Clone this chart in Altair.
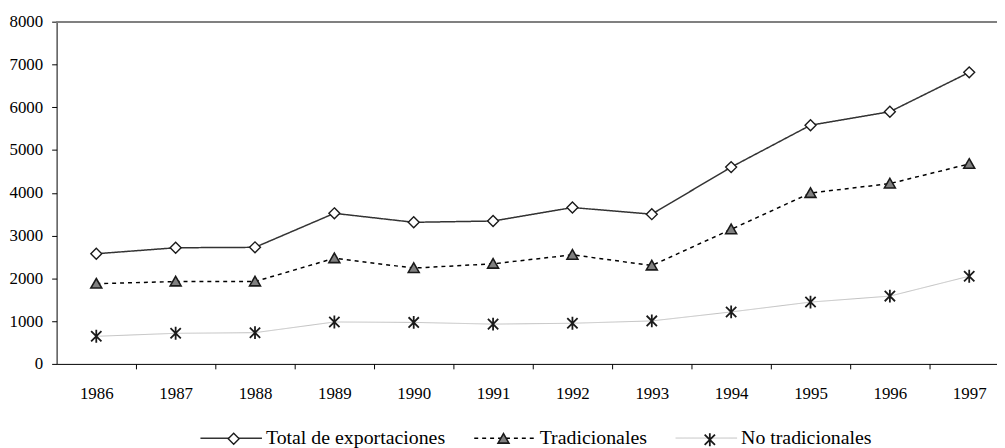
import altair as alt
import pandas as pd

# ---- data ----
years = [1986, 1987, 1988, 1989, 1990, 1991, 1992, 1993, 1994, 1995, 1996, 1997]
total = [2575, 2715, 2725, 3520, 3310, 3340, 3655, 3500, 4600, 5580, 5895, 6815]
tradicionales = [1875, 1925, 1925, 2470, 2240, 2340, 2550, 2300, 3145, 3995, 4215, 4675]
no_tradicionales = [645, 715, 730, 980, 970, 930, 950, 1005, 1215, 1445, 1585, 2050]
series = ["Total de exportaciones", "Tradicionales", "No tradicionales"]
y_ticks = [0, 1000, 2000, 3000, 4000, 5000, 6000, 7000, 8000]

rows = []
for name, vals in zip(series, [total, tradicionales, no_tradicionales]):
    for yr, v in zip(years, vals):
        rows.append({"anio": yr, "valor": v, "serie": name})
df = pd.DataFrame(rows)

FONT = "Liberation Serif"
LINE_SYM = 3844  # legend line symbol: 62 px long

x_scale = alt.Scale(domain=[years[0] - 0.5, years[-1] + 0.5], range=[0, 960], nice=False, zero=False)
y_scale = alt.Scale(domain=[y_ticks[0], y_ticks[-1]], nice=False)

x_axis = alt.Axis(
    values=[y + 0.5 for y in years],
    labelExpr="format(floor(datum.value), 'd')",
    labelOffset=-40, labelFlush=False, tickSize=5, labelPadding=17,
    grid=False, title=None, domainColor="black", tickColor="black",
    labelColor="black", labelFont=FONT, labelFontSize=17,
)
y_axis = alt.Axis(
    values=y_ticks, format="d", tickSize=5, labelPadding=9, grid=False, title=None,
    domainColor="black", tickColor="black", labelColor="black",
    labelFont=FONT, labelFontSize=17,
)

X = alt.X("anio:Q", scale=x_scale, axis=x_axis)
Y = alt.Y("valor:Q", scale=y_scale, axis=y_axis)

# legend of the lines (carries the labels)
LEG_X = 144
LEG_Y = 388
leg_lines = alt.Legend(
    orient="none", legendX=LEG_X, legendY=LEG_Y, direction="horizontal", columns=3,
    title=None, symbolType="stroke", symbolSize=LINE_SYM, labelFont=FONT, labelFontSize=20,
    labelOffset=3, columnPadding=26, labelLimit=400, padding=0, labelColor="black",
)

base = alt.Chart(df)

lines = base.mark_line().encode(
    x=X, y=Y,
    color=alt.Color("serie:N", scale=alt.Scale(domain=series, range=["#333333", "#000000", "#c0c0c0"]), legend=leg_lines),
    strokeDash=alt.StrokeDash("serie:N", scale=alt.Scale(domain=series, range=[[1, 0], [4, 4], [1, 0]]), legend=leg_lines),
    strokeWidth=alt.StrokeWidth("serie:N", scale=alt.Scale(type="ordinal", domain=series, range=[1.5, 1.5, 1.0]), legend=leg_lines),
)

diamond = "M0,-1L1,0L0,1L-1,0Z"
triangle = "M0,-0.95L1,0.8L-1,0.8Z"
star = "M-0.8,-0.8L0.8,0.8M-0.8,0.8L0.8,-0.8M0,-1L0,1"

# one marker layer per series; each gives a one-entry legend laid over the line legend
marker_styles = [
    (diamond, "#ffffff", 121, 1.4, 172),
    (triangle, "#808080", 121, 1.6, 444),
    (star, "#ffffff", 169, 1.8, 651),
]
MARK_LEG_Y = 414
STROKE = "#1a1a1a"

marker_layers = []
for name, (path, fill, size, sw, lx) in zip(series, marker_styles):
    leg = alt.Legend(
        orient="none", legendX=lx, legendY=MARK_LEG_Y, title=None, symbolSize=size,
        symbolType=path, symbolFillColor=fill, symbolStrokeWidth=sw, symbolOpacity=1,
        labelOpacity=0, labelColor="transparent", labelFontSize=1, labelOffset=0, padding=0,
    )
    layer = base.transform_filter(alt.datum.serie == name).mark_point(
        shape=path, filled=True, fill=fill, strokeWidth=sw, size=size, opacity=1
    ).encode(
        x=X, y=Y,
        stroke=alt.Stroke("serie:N", scale=alt.Scale(domain=[name], range=[STROKE]), legend=leg),
    )
    marker_layers.append(layer)

border = alt.Chart(df).mark_rule(color="#808080", strokeWidth=1).encode(
    x=alt.X(datum=years[0] - 0.5, scale=x_scale, axis=x_axis),
    x2=alt.X2(datum=years[-1] + 0.5),
    y=alt.Y(datum=y_ticks[-1], scale=y_scale, axis=y_axis),
)

chart = alt.layer(border, lines, *marker_layers).resolve_scale(
    stroke="independent"
).resolve_legend(
    stroke="independent"
).properties(
    width=940, height=345,
    autosize=alt.AutoSizeParams(type="none"),
    padding={"left": 49, "top": 12, "right": 8, "bottom": 83},
).configure_view(stroke="transparent")

chart.save("out.html", embed_options={"renderer": "svg", "actions": False})
